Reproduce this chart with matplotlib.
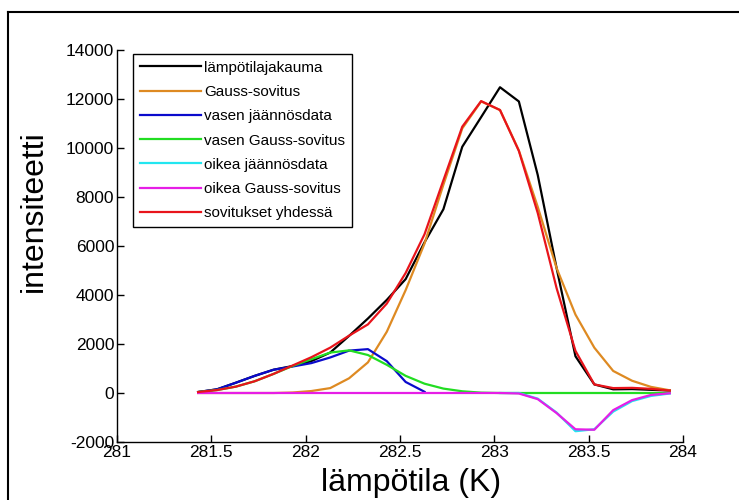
import matplotlib
matplotlib.use("Agg")
import matplotlib.pyplot as plt
from matplotlib import font_manager
from matplotlib.lines import Line2D

# lämpötilapisteet (K)
lampotila = [281.43, 281.53, 281.63, 281.73, 281.83, 281.93, 282.03, 282.13,
             282.23, 282.33, 282.43, 282.53, 282.63, 282.73, 282.83, 282.93,
             283.03, 283.13, 283.23, 283.33, 283.43, 283.53, 283.63, 283.73,
             283.83, 283.93]

jakauma = [40, 150, 420, 700, 950, 1100, 1300, 1650, 2330, 3040, 3800, 4650,
           6150, 7500, 10050, 11260, 12480, 11900, 8900, 5100, 1500, 350, 150,
           160, 130, 100]

gauss = [0, 0, 0, 0, 0, 20, 80, 200, 600, 1250, 2500, 4200, 6100, 8500, 10800,
         11900, 11550, 9900, 7600, 5100, 3200, 1850, 900, 500, 250, 110]

# vasen jäännös: 13 ensimmäistä pistettä
vasen_data = [40, 150, 420, 700, 950, 1080, 1220, 1450, 1730, 1790, 1300, 450, 50]

vasen_gauss = [40, 120, 260, 480, 780, 1100, 1380, 1650, 1740, 1550, 1150, 700,
               380, 180, 70, 15, 0, 0, 0, 0, 0, 0, 0, 0, 0, 0]

# oikea jäännös: 10 viimeistä pistettä
oikea_data = [0, 0, -230, -800, -1560, -1480, -760, -330, -120, -20]

oikea_gauss = [0, 0, 0, 0, 0, 0, 0, 0, 0, 0, 0, 0, 0, 0, 0, 0,
               0, -20, -250, -820, -1480, -1500, -700, -290, -80, -10]

yhdessa = [40, 120, 260, 480, 780, 1120, 1460, 1850, 2340, 2800, 3650, 4900,
           6480, 8680, 10870, 11915, 11550, 9880, 7350, 4280, 1720, 350, 200,
           210, 170, 100]

x_ticks = [281, 281.5, 282, 282.5, 283, 283.5, 284]
x_ticklabels = ["281", "281.5", "282", "282.5", "283", "283.5", "284"]
y_ticks = [-2000, 0, 2000, 4000, 6000, 8000, 10000, 12000, 14000]

installed = {f.name for f in font_manager.fontManager.ttflist}
fam = "Liberation Sans Narrow" if "Liberation Sans Narrow" in installed else "Liberation Sans"
plt.rcParams["font.family"] = [fam, "DejaVu Sans"]
plt.rcParams["axes.unicode_minus"] = False

fig = plt.figure(figsize=(7.39, 5.0), dpi=100)
ax = fig.add_axes([117 / 739, 1 - 442 / 500, 566 / 739, 392 / 500])

lw = 1.6
ax.plot(lampotila, jakauma, color="#000000", lw=lw, label="lämpötilajakauma")
ax.plot(lampotila, gauss, color="#DE8A22", lw=lw, label="Gauss-sovitus")
ax.plot(lampotila[:13], vasen_data, color="#0A0ACC", lw=lw, label="vasen jäännösdata")
ax.plot(lampotila, vasen_gauss, color="#22DD22", lw=lw, label="vasen Gauss-sovitus")
ax.plot(lampotila[16:], oikea_data, color="#22E6F0", lw=lw, label="oikea jäännösdata")
ax.plot(lampotila, oikea_gauss, color="#E61EE6", lw=lw, label="oikea Gauss-sovitus")
ax.plot(lampotila, yhdessa, color="#E8141B", lw=lw, label="sovitukset yhdessä")

ax.set_xlim(281, 284)
ax.set_ylim(-2000, 14000)
ax.set_xticks(x_ticks)
ax.set_xticklabels(x_ticklabels)
ax.set_yticks(y_ticks)
ax.tick_params(direction="in", length=5, width=1, labelsize=12.5, pad=2)
for side in ["top", "right"]:
    ax.spines[side].set_visible(False)
for side in ["left", "bottom"]:
    ax.spines[side].set_linewidth(1)

ax.set_xlabel("lämpötila (K)", fontsize=23)
ax.set_ylabel("intensiteetti", fontsize=23)
ax.xaxis.set_label_coords(0.52, -0.066)
ax.yaxis.set_label_coords(-0.12, 0.59)

leg = ax.legend(loc="upper left", bbox_to_anchor=(0.028, 0.99), fontsize=11,
                frameon=True, fancybox=False, framealpha=1, edgecolor="black",
                handlelength=4.0, handletextpad=0.2, labelspacing=0.67,
                borderaxespad=0, borderpad=0.45)
leg.get_frame().set_linewidth(1)

# kehys kuvan ympärillä
fig.add_artist(Line2D([8 / 739, 8 / 739], [0, 1 - 12 / 500], color="black", lw=1.5,
                      transform=fig.transFigure))
fig.add_artist(Line2D([8 / 739, 1], [1 - 12 / 500, 1 - 12 / 500], color="black", lw=1.5,
                      transform=fig.transFigure))

fig.savefig("out.png", dpi=100, facecolor="white")
